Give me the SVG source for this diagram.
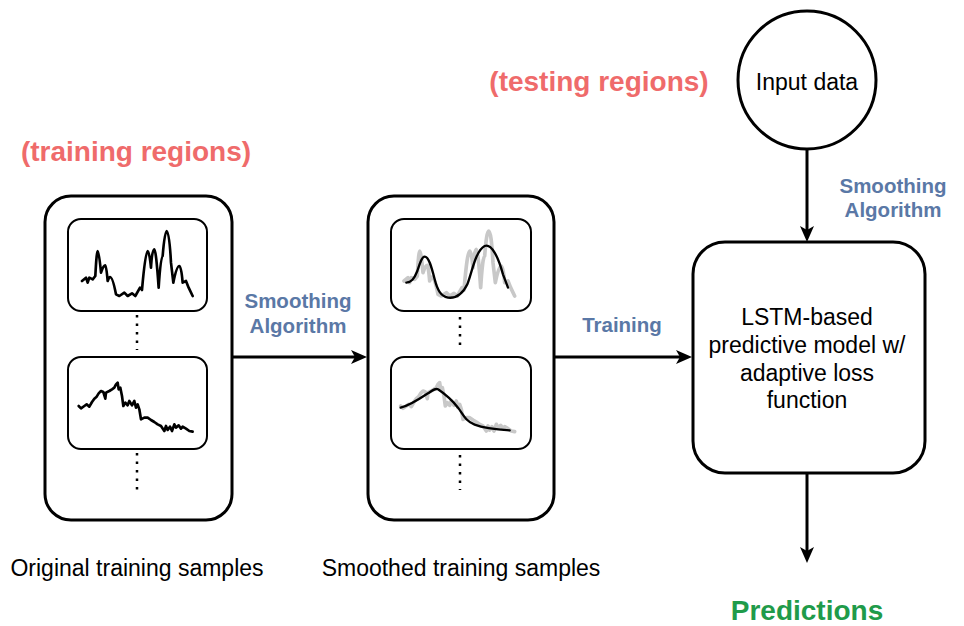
<svg xmlns="http://www.w3.org/2000/svg" xmlns:xlink="http://www.w3.org/1999/xlink" width="964" height="626" viewBox="0 0 964 626">
<style>
text{font-family:"Liberation Sans",Arial,sans-serif}
.box{fill:#fff;stroke:#000;stroke-width:3}
.inner{fill:#fff;stroke:#000;stroke-width:2}
.dots{stroke:#000;stroke-width:2.5;stroke-dasharray:2.5 6}
.conn{stroke:#000;stroke-width:3;fill:none}
.wave{fill:none;stroke:#000;stroke-width:8;stroke-linejoin:round;stroke-linecap:round}
.gray{fill:none;stroke:#c8c8c8;stroke-width:11;stroke-linejoin:round;stroke-linecap:round}
.smooth{fill:none;stroke:#000;stroke-width:7;stroke-linejoin:round;stroke-linecap:round}
.lbl{font-size:20.5px;font-weight:bold;fill:#5a78a6;text-anchor:middle}
.reg{font-size:28px;font-weight:bold;fill:#ef6b6b;text-anchor:middle}
.txt{font-size:23px;fill:#000;text-anchor:middle}
</style>
<defs>
<marker id="arr" markerUnits="userSpaceOnUse" markerWidth="16" markerHeight="14" viewBox="0 0 16 14" refX="9" refY="7" orient="auto">
<path d="M0,0 L16,7 L0,14 L4,7 Z" fill="#000"/>
</marker>
<path id="w1" d="M48,195 L60,185 L65,200 L70,185 L80,190 L88,180 Q92,105 95,105 Q99,105 105,170 Q112,148 118,148 Q121,148 125,195 Q129,183 132,183 Q140,183 150,235 L160,240 L175,230 L185,240 L198,232 L208,240 L222,215 L228,222 Q238,105 245,105 Q250,105 255,155 Q258,100 265,100 Q270,100 278,215 Q284,120 290,120 Q296,45 302,45 Q310,45 315,140 L322,200 Q332,150 340,150 Q346,150 350,200 L360,195 L368,215 L380,240"/>
<path id="w2" d="M38,150 L45,157 L55,150 L62,145 L70,152 L78,138 L85,128 L92,122 L98,112 L105,105 L112,108 L118,128 L120,110 L130,105 L138,100 L145,95 L150,85 L155,80 L158,100 L163,95 L168,120 L172,150 L178,140 L185,148 L190,135 L198,148 L205,135 L210,155 L215,145 L220,160 L225,190 L235,185 L245,185 L255,192 L265,198 L275,205 L285,210 L295,225 L300,210 L305,222 L312,212 L318,225 L325,205 L330,215 L338,208 L345,218 L350,212 L360,218 L370,225 L380,227"/>
</defs>

<text class="reg" x="136" y="161">(training regions)</text>
<text class="reg" x="599" y="91">(testing regions)</text>

<g id="original-samples">
<rect class="box" x="45" y="196" width="187" height="324" rx="26"/>
<rect class="inner" x="68" y="219" width="139" height="92" rx="13"/>
<rect class="inner" x="68" y="357" width="139" height="92" rx="13"/>
<g transform="translate(66,216) scale(0.3333)"><use xlink:href="#w1" class="wave"/></g>
<g transform="translate(66,356) scale(0.3333)"><use xlink:href="#w2" class="wave"/></g>
<line class="dots" x1="137" y1="315" x2="137" y2="350"/>
<line class="dots" x1="137" y1="453" x2="137" y2="490"/>
</g>

<g id="smoothed-samples">
<rect class="box" x="368" y="196" width="186" height="324" rx="26"/>
<rect class="inner" x="391" y="219" width="140" height="92" rx="13"/>
<rect class="inner" x="391" y="357" width="140" height="92" rx="13"/>
<g transform="translate(388,216) scale(0.3333)">
<use xlink:href="#w1" class="gray"/>
<path class="smooth" d="M55,200 C70,198 78,190 88,165 C96,140 102,122 110,122 C122,122 130,150 140,190 C148,222 158,240 180,245 C205,248 225,232 238,205 C252,170 262,105 290,90 C310,82 330,120 345,175 L360,215"/>
</g>
<g transform="translate(388,356) scale(0.3333)">
<use xlink:href="#w2" class="gray"/>
<path class="smooth" d="M38,155 C60,150 90,132 120,112 C135,102 142,96 150,100 C165,110 190,130 210,155 C225,175 232,195 260,206 C290,218 330,221 365,223"/>
</g>
<line class="dots" x1="460" y1="317" x2="460" y2="350"/>
<line class="dots" x1="460" y1="455" x2="460" y2="490"/>
</g>

<g id="input-data">
<circle class="box" cx="807" cy="80" r="69"/>
<text class="txt" x="807" y="90">Input data</text>
</g>

<g id="lstm-model">
<rect class="box" x="693" y="242" width="232" height="231" rx="32"/>
<text class="txt" x="807" y="325">LSTM-based</text>
<text class="txt" x="807" y="353">predictive model w/</text>
<text class="txt" x="807" y="381">adaptive loss</text>
<text class="txt" x="807" y="408">function</text>
</g>

<g id="connectors">
<line class="conn" x1="232" y1="357" x2="360" y2="357" marker-end="url(#arr)"/>
<line class="conn" x1="554" y1="357" x2="685" y2="357" marker-end="url(#arr)"/>
<line class="conn" x1="807" y1="149" x2="807" y2="235" marker-end="url(#arr)"/>
<line class="conn" x1="807" y1="473" x2="807" y2="556" marker-end="url(#arr)"/>
</g>

<g id="labels">
<text class="lbl" x="298" y="308">Smoothing</text>
<text class="lbl" x="298" y="333">Algorithm</text>
<text class="lbl" x="622" y="332">Training</text>
<text class="lbl" x="893" y="193">Smoothing</text>
<text class="lbl" x="893" y="217">Algorithm</text>
<text class="txt" x="137" y="576">Original training samples</text>
<text class="txt" x="461" y="576">Smoothed training samples</text>
<text x="807" y="620" style="font-size:28px;font-weight:bold;fill:#1f9b4a;text-anchor:middle">Predictions</text>
</g>
</svg>
